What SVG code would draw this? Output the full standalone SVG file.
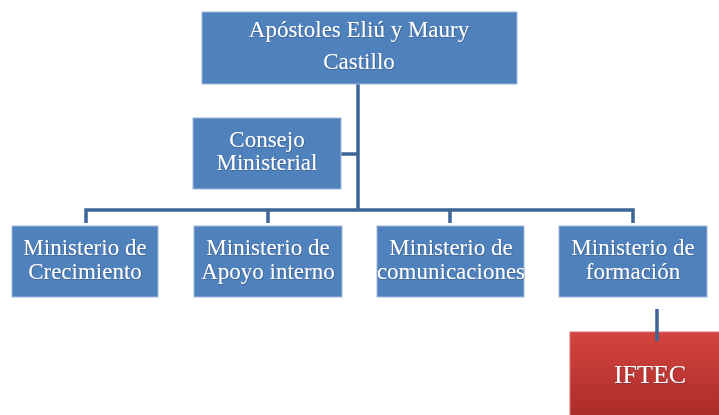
<svg xmlns="http://www.w3.org/2000/svg" width="719" height="415" viewBox="0 0 719 415">
<style>
.box{fill:#4f81bd;stroke:#9fb8dc;stroke-width:1}
.t{font-family:"Liberation Serif","Times New Roman",serif;font-size:23px;fill:#ffffff;text-anchor:middle;filter:url(#sh)}
.c{fill:none;stroke:#3d6596;stroke-width:3.5}
</style>
<defs>
<filter id="sh" x="-10%" y="-30%" width="120%" height="160%">
<feDropShadow dx="0.5" dy="0.5" stdDeviation="0.7" flood-color="#1a2a40" flood-opacity="0.6"/>
</filter>
<linearGradient id="red" x1="0" y1="0" x2="0" y2="1">
<stop offset="0" stop-color="#d3433e"/>
<stop offset="1" stop-color="#a92b29"/>
</linearGradient>
</defs>
<g id="connectors">
<path class="c" d="M358 84 V210"/>
<path class="c" d="M341 154 H358"/>
<path class="c" d="M86 223 V210 H633 V223"/>
<path class="c" d="M268 210 V223"/>
<path class="c" d="M450 210 V223"/>
</g>
<g id="n-top">
<rect class="box" x="202" y="12" width="315" height="72"/>
<text class="t" x="359" y="37">Apóstoles Eliú y Maury</text>
<text class="t" x="359" y="69">Castillo</text>
</g>
<g id="n-consejo">
<rect class="box" x="193" y="118" width="148" height="71"/>
<text class="t" x="267" y="147">Consejo</text>
<text class="t" x="267" y="170">Ministerial</text>
</g>
<g id="n-crecimiento">
<rect class="box" x="12" y="226" width="146" height="71"/>
<text class="t" x="85" y="255">Ministerio de</text>
<text class="t" x="85" y="279">Crecimiento</text>
</g>
<g id="n-apoyo">
<rect class="box" x="194" y="226" width="148" height="71"/>
<text class="t" x="268" y="255">Ministerio de</text>
<text class="t" x="268" y="279">Apoyo interno</text>
</g>
<g id="n-comunicaciones">
<rect class="box" x="377" y="226" width="147" height="71"/>
<text class="t" x="451" y="255">Ministerio de</text>
<text class="t" x="451" y="279">comunicaciones</text>
</g>
<g id="n-formacion">
<rect class="box" x="559" y="226" width="148" height="71"/>
<text class="t" x="633" y="255">Ministerio de</text>
<text class="t" x="633" y="279">formación</text>
</g>
<g id="n-iftec">
<rect x="570" y="332" width="160" height="90" fill="url(#red)" stroke="#d9716c" stroke-width="1"/>
<text class="t" x="650" y="383" style="font-size:26px">IFTEC</text>
</g>
<g id="connector-iftec">
<path class="c" d="M657 309 V341"/>
</g>
</svg>
